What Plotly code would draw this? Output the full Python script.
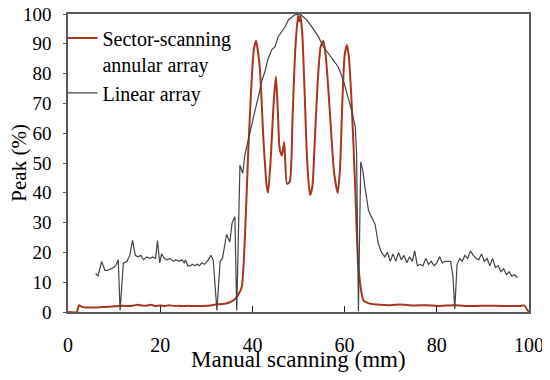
import plotly.graph_objects as go

# Linear array (gray)
lin_x = [6.0, 6.5, 7.3, 8.0, 8.6, 9.3, 10.0, 10.5, 10.9, 11.3, 12.0, 12.8, 13.4, 14.0, 14.6, 15.2, 15.8,
         16.4, 17.0, 17.8, 18.4, 19.0, 19.4, 19.9, 20.3, 20.9, 21.5, 22.1, 22.8, 23.4, 24.1, 24.7, 25.2,
         25.5, 26.0, 26.5, 27.0, 27.5, 28.0, 28.5, 29.0, 29.6, 30.2, 31.0, 31.5, 32.3, 33.0, 33.5, 34.0,
         34.4, 35.1, 35.6, 36.2, 36.6, 37.3, 37.9, 38.4, 39.1, 39.8, 40.6, 41.3, 42.0, 42.7, 43.4, 44.2,
         44.9, 45.6, 46.4, 47.1, 47.8, 48.5, 49.2, 50.3, 51.0, 51.8, 53.2, 54.3, 55.4, 56.5, 57.5, 58.6,
         59.7, 60.8, 61.5, 62.3, 62.6, 62.8, 63.0, 63.5, 64.0, 64.4, 64.8, 65.2, 65.8, 66.6, 67.3, 68.0,
         68.7, 69.3, 69.9, 70.5, 71.1, 71.7, 72.3, 72.9, 73.5, 74.1, 74.7, 75.2, 75.8, 76.4, 77.0, 77.6,
         78.2, 78.8, 79.4, 80.0, 80.6, 81.2, 81.8, 82.4, 83.0, 83.5, 83.9, 84.4, 85.0, 85.5, 86.1, 86.7,
         87.3, 87.9, 88.5, 89.1, 89.7, 90.3, 90.9, 91.5, 92.1, 92.7, 93.3, 93.9, 94.5, 95.1, 95.7, 96.3,
         96.9, 97.5]
lin_y = [13.0, 12.0, 17.0, 14.0, 14.0, 14.5, 15.0, 16.0, 17.5, 0.5, 16.4, 17.0, 19.0, 24.0, 19.0, 18.5, 19.0,
         17.5, 18.5, 18.0, 18.5, 18.0, 24.0, 16.5, 19.5, 18.0, 17.5, 18.0, 17.0, 17.5, 17.0, 17.5, 16.5,
         17.5, 15.5, 15.5, 16.0, 15.5, 16.0, 15.5, 16.5, 16.0, 17.0, 19.0, 17.5, 0.5, 17.0, 18.0, 22.0,
         26.0, 23.5, 30.0, 32.0, 0.5, 49.3, 46.5, 53.0, 57.7, 63.3, 67.8, 72.2, 77.3, 80.6, 85.0, 88.0,
         89.0, 92.4, 94.0, 95.7, 98.0, 99.0, 99.7, 100.0, 99.0, 98.0, 95.0, 92.4, 89.0, 86.8, 84.6, 82.3,
         77.9, 72.2, 67.8, 62.2, 53.3, 26.0, 0.3, 50.4, 47.0, 42.0, 37.0, 34.0, 32.0, 29.5, 23.0, 20.0,
         18.5, 20.0, 17.0, 19.5, 17.0, 20.0, 17.5, 19.0, 16.5, 18.5, 17.0, 20.5, 15.5, 16.0, 15.5, 18.0,
         16.0, 17.0, 15.5, 16.5, 18.5, 16.5, 17.0, 17.0, 17.0, 12.0, 1.0, 16.0, 18.0, 17.0, 19.0, 18.0,
         20.5, 19.0, 18.0, 17.5, 19.5, 17.0, 18.0, 15.5, 18.0, 15.0, 15.5, 13.5, 14.5, 12.5, 13.5, 12.0,
         12.5, 11.5]

# Sector-scanning annular array (red)
sec_x = [0.0, 1.9, 2.4, 3.0, 4.0, 5.0, 6.0, 7.0, 8.0, 9.0, 10.0, 11.0, 12.0, 13.0, 14.0, 15.0, 16.0, 17.0,
         18.0, 19.0, 20.0, 21.0, 22.0, 23.0, 24.0, 25.0, 26.0, 27.0, 28.0, 29.0, 30.0, 31.0, 32.0, 33.0,
         34.0, 35.0, 36.0, 36.9, 37.7, 38.4, 39.1, 39.8, 40.3, 40.8, 41.6, 42.4, 43.1, 43.4, 44.0, 44.6,
         45.1, 45.5, 45.9, 46.4, 46.9, 47.5, 48.1, 48.7, 49.3, 49.9, 50.15, 50.4, 50.8, 51.3, 51.9, 52.5,
         53.0, 53.6, 54.2, 54.8, 55.4, 55.9, 56.5, 57.1, 57.7, 58.5, 59.0, 59.5, 60.0, 60.5, 60.9, 61.5,
         62.3, 63.0, 64.1, 65.5, 67.0, 70.0, 72.0, 75.0, 78.0, 80.0, 82.0, 84.0, 86.0, 90.0, 95.0, 98.0,
         99.0, 99.5, 100.0]
sec_y = [0.0, 0.0, 2.3, 1.7, 1.5, 1.5, 1.5, 1.6, 1.7, 1.8, 1.9, 2.0, 2.1, 2.0, 2.1, 2.4, 2.2, 2.1,
         2.4, 2.0, 2.2, 2.0, 2.3, 2.0, 2.1, 2.0, 2.1, 2.0, 2.0, 2.0, 2.1, 2.2, 2.5, 2.6,
         2.8, 3.2, 4.0, 5.7, 8.5, 26.0, 54.0, 76.7, 87.9, 91.0, 82.0, 57.7, 42.3, 40.0, 52.0, 70.0,
         79.0, 68.0, 55.0, 52.5, 57.0, 43.0, 43.7, 65.0, 88.0, 99.5, 97.5, 99.5, 94.0, 75.0, 50.0, 39.2,
         42.0, 60.0, 78.0, 89.0, 91.0, 86.0, 74.0, 60.0, 47.0, 40.0, 48.0, 70.0, 86.0, 89.6, 86.0, 71.0,
         42.0, 15.0, 3.9, 2.8, 2.5, 2.3, 2.5, 2.2, 2.3, 2.0, 2.2, 2.3, 2.0, 2.1, 2.0, 2.0,
         2.2, 1.0, 0.0]

x_ticks = [0, 20, 40, 60, 80, 100]
y_ticks = [0, 10, 20, 30, 40, 50, 60, 70, 80, 90, 100]

FONT = "'Liberation Serif', 'Times New Roman', serif"

fig = go.Figure()
fig.add_trace(go.Scatter(
    x=sec_x, y=sec_y, mode="lines",
    name="Sector-scanning<br>annular array",
    line=dict(color="#a8351e", width=2, shape="spline", smoothing=0.6),
))
fig.add_trace(go.Scatter(
    x=lin_x, y=lin_y, mode="lines",
    name="Linear array",
    line=dict(color="#444444", width=1.2),
))

fig.update_layout(
    width=542, height=372,
    margin=dict(l=60, r=21, t=6, b=68, autoexpand=False),
    paper_bgcolor="white", plot_bgcolor="white",
    font=dict(family=FONT, size=18, color="black"),
    showlegend=True,
    legend=dict(
        x=-0.012, y=0.985, xanchor="left", yanchor="top",
        bgcolor="rgba(0,0,0,0)", font=dict(family=FONT, size=20, color="black"),
        valign="top", tracegroupgap=2, itemwidth=30,
    ),
    xaxis=dict(
        range=[0, 100], tickvals=x_ticks, ticktext=[str(v) for v in x_ticks],
        showgrid=False, zeroline=False, automargin=False,
        showline=True, linecolor="#5a5a5a", linewidth=1.5, mirror=True,
        ticks="inside", ticklen=6, tickcolor="#222", tickwidth=1,
        ticklabelstandoff=14, ticklabeloverflow="allow",
        tickfont=dict(family=FONT, size=20, color="black"),
    ),
    yaxis=dict(
        range=[0, 100], tickvals=y_ticks, ticktext=[str(v) for v in y_ticks],
        showgrid=False, zeroline=False, automargin=False,
        showline=True, linecolor="#5a5a5a", linewidth=1.5, mirror=True,
        ticks="outside", ticklen=3, tickcolor="#5a5a5a",
        ticklabelstandoff=8, ticklabeloverflow="allow",
        tickfont=dict(family=FONT, size=19, color="black"),
    ),
    annotations=[
        dict(
            text="Manual scanning (mm)", xref="paper", yref="paper",
            x=0.5, y=-0.16, xanchor="center", yanchor="middle", showarrow=False,
            font=dict(family=FONT, size=23, color="black"),
        ),
        dict(
            text="Peak (%)", xref="paper", yref="paper", textangle=-90,
            x=-0.107, y=0.5, xanchor="center", yanchor="middle", showarrow=False,
            font=dict(family=FONT, size=21, color="black"),
        ),
    ],
)

fig.write_html("out.html")
